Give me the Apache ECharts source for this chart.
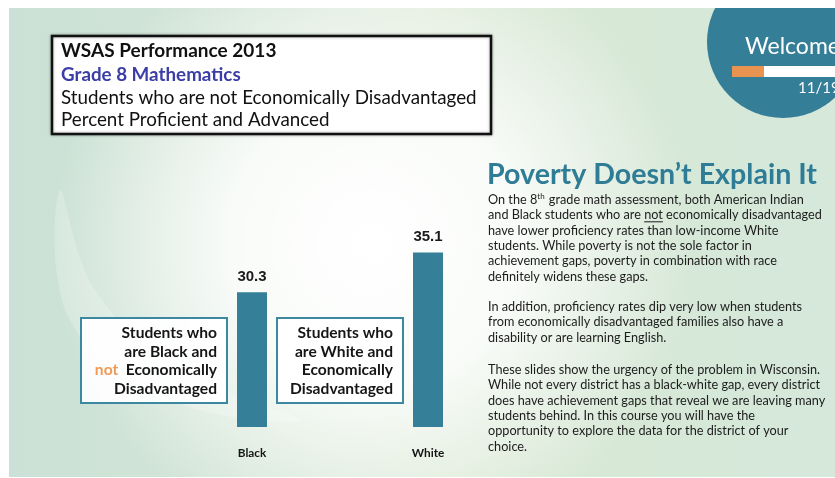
<!DOCTYPE html>
<html>
<head>
<meta charset="utf-8">
<script src="https://cdn.jsdelivr.net/npm/echarts@6/dist/echarts.min.js"></script>
<style>
  html, body { margin: 0; padding: 0; background: #ffffff; }
  #chart { width: 835px; height: 478px; }
</style>
</head>
<body>
<div id="chart"></div>
<script>
// Grade 8 math, students not economically disadvantaged: % proficient and advanced
const categories = ['Black', 'White'];
const proficiency = [30.3, 35.1];

const titleLines = [
  'WSAS Performance 2013',
  'Grade 8 Mathematics',
  'Students who are not Economically Disadvantaged',
  'Percent Proficient and Advanced'
];

const blackNote = ['Students who', 'are Black and', '{o|not}  Economically', 'Disadvantaged'];
const whiteNote = ['Students who', 'are White and', 'Economically', 'Disadvantaged'];

const heading = 'Poverty Doesn\u2019t Explain It';
const paragraphs = [
  [
    'On the 8{sup|th} grade math assessment, both American Indian',
    'and Black students who are not economically disadvantaged',
    'have lower proficiency rates than low-income White',
    'students. While poverty is not the sole factor in',
    'achievement gaps, poverty in combination with race',
    'definitely widens these gaps.'
  ],
  [
    'In addition, proficiency rates dip very low when students',
    'from economically disadvantaged families also have a',
    'disability or are learning English.'
  ],
  [
    'These slides show the urgency of the problem in Wisconsin.',
    'While not every district has a black-white gap, every district',
    'does have achievement gaps that reveal we are leaving many',
    'students behind. In this course you will have the',
    'opportunity to explore the data for the district of your',
    'choice.'
  ]
];

const TEAL = '#357f98';
const BODY_FONT = '12.7px Lato';

const chart = echarts.init(document.getElementById('chart'), null, { renderer: 'canvas' });

// canvas measurement for the underlined word in the body text
const measureCtx = document.createElement('canvas').getContext('2d');
function textWidth(str, font) {
  measureCtx.font = font;
  return measureCtx.measureText(str).width;
}

const graphics = [];

// slide background
graphics.push({
  type: 'rect', z: 0, silent: true,
  shape: { x: 9, y: 8, width: 826, height: 469 },
  style: {
    fill: {
      type: 'linear', x: 0, y: 0, x2: 1, y2: 0,
      colorStops: [
        { offset: 0, color: '#cbe1d7' },
        { offset: 0.5, color: '#d9e8d3' },
        { offset: 1, color: '#d5e8da' }
      ]
    }
  }
});
graphics.push({
  type: 'rect', z: 0, silent: true,
  shape: { x: 9, y: 8, width: 826, height: 469 },
  style: {
    fill: {
      type: 'radial', x: 0.44, y: 0.5, r: 0.68,
      colorStops: [
        { offset: 0, color: 'rgba(255,255,255,1)' },
        { offset: 0.45, color: 'rgba(255,255,255,0.85)' },
        { offset: 1, color: 'rgba(255,255,255,0)' }
      ]
    }
  }
});
// soft swoosh on the left
graphics.push({
  type: 'polygon', z: 0, silent: true,
  shape: { points: [[60, 190], [70, 320], [170, 400], [300, 420], [180, 370], [95, 290]], smooth: 0.4 },
  style: { fill: 'rgba(255,255,255,0.22)' }
});

// welcome badge
graphics.push({
  type: 'circle', z: 1, silent: true,
  shape: { cx: 783, cy: 42, r: 76 },
  style: { fill: '#347e97' }
});
graphics.push({
  type: 'text', z: 2, silent: true, x: 745, y: 47,
  style: { text: 'Welcome', font: '23px Lato', fill: '#ffffff', verticalAlign: 'middle' }
});
graphics.push({
  type: 'rect', z: 2, silent: true,
  shape: { x: 732, y: 66, width: 32, height: 11 },
  style: { fill: '#e8934f' }
});
graphics.push({
  type: 'rect', z: 2, silent: true,
  shape: { x: 764, y: 66, width: 80, height: 11 },
  style: { fill: '#ffffff' }
});
graphics.push({
  type: 'text', z: 2, silent: true, x: 798, y: 88,
  style: { text: '11/19', font: '15px Lato', fill: '#ffffff', verticalAlign: 'middle' }
});

// white frame around the slide
graphics.push({ type: 'rect', z: 3, silent: true, shape: { x: 0, y: 0, width: 835, height: 8 }, style: { fill: '#ffffff' } });
graphics.push({ type: 'rect', z: 3, silent: true, shape: { x: 0, y: 0, width: 9, height: 478 }, style: { fill: '#ffffff' } });
graphics.push({ type: 'rect', z: 3, silent: true, shape: { x: 0, y: 477, width: 835, height: 1 }, style: { fill: '#ffffff' } });

// title box
graphics.push({
  type: 'rect', z: 4, silent: true,
  shape: { x: 52, y: 36, width: 439, height: 98 },
  style: { fill: '#ffffff', stroke: '#111111', lineWidth: 2.5, shadowBlur: 3, shadowColor: 'rgba(0,0,0,0.35)' }
});
const titleStyles = [
  { font: 'bold 19px Lato', fill: '#111111', y: 51 },
  { font: 'bold 18.8px Lato', fill: '#3b3ea6', y: 75 },
  { font: '18.8px Lato', fill: '#111111', y: 98 },
  { font: '18.8px Lato', fill: '#111111', y: 120 }
];
titleLines.forEach(function (line, i) {
  graphics.push({
    type: 'text', z: 5, silent: true, x: 61, y: titleStyles[i].y,
    style: { text: line, font: titleStyles[i].font, fill: titleStyles[i].fill, verticalAlign: 'middle' }
  });
});

// note boxes beside the bars
function noteBox(x, width, lines, textRight) {
  graphics.push({
    type: 'rect', z: 4, silent: true,
    shape: { x: x, y: 318, width: width, height: 85 },
    style: { fill: 'rgba(255,255,255,0.92)', stroke: '#3b88a0', lineWidth: 2 }
  });
  graphics.push({
    type: 'text', z: 5, silent: true, x: textRight, y: 361,
    style: {
      text: lines.map(function (l) { return '{b|' + l.replace('{o|not}', '}{o|not}{b|') + '}'; }).join('\n'),
      align: 'right', verticalAlign: 'middle',
      rich: {
        b: { font: 'bold 15.6px Lato', fill: '#161616', lineHeight: 18.4 },
        o: { font: 'bold 15.6px Lato', fill: '#ef9a55', lineHeight: 18.4 }
      }
    }
  });
}
noteBox(81, 146, blackNote, 217);
noteBox(277, 126, whiteNote, 393);

// right-hand text
graphics.push({
  type: 'text', z: 5, silent: true, x: 487, y: 175,
  style: { text: heading, font: 'bold 28.6px Lato', fill: '#2f7c96', verticalAlign: 'middle' }
});
const paraStarts = [200, 307, 370];
const lineStep = 15.3;
paragraphs.forEach(function (para, p) {
  para.forEach(function (line, i) {
    const y = paraStarts[p] + i * lineStep;
    graphics.push({
      type: 'text', z: 5, silent: true, x: 488, y: y,
      style: {
        text: '{t|' + line.replace('{sup|th}', '}{sup|th}{t|') + '}',
        verticalAlign: 'middle',
        rich: {
          t: { font: BODY_FONT, fill: '#1c1c1c', lineHeight: 15, verticalAlign: 'middle' },
          sup: { font: '8px Lato', fill: '#1c1c1c', lineHeight: 15, verticalAlign: 'top', padding: [0, 1, 0, 0] }
        }
      }
    });
    if (p === 0 && i === 1) {
      const pre = 'and Black students who are ';
      const x0 = 488 + textWidth(pre, BODY_FONT);
      const w = textWidth('not', BODY_FONT);
      graphics.push({
        type: 'line', z: 5, silent: true,
        shape: { x1: x0, y1: y + 6.5, x2: x0 + w, y2: y + 6.5 },
        style: { stroke: '#1c1c1c', lineWidth: 1 }
      });
    }
  });
});

chart.setOption({
  animation: false,
  grid: { left: 164, right: 319, top: 212, bottom: 51 },
  xAxis: {
    type: 'category',
    data: categories,
    axisLine: { show: false },
    axisTick: { show: false },
    axisLabel: { margin: 20, fontFamily: 'Lato', fontWeight: 'bold', fontSize: 11.8, color: '#151515' }
  },
  yAxis: {
    type: 'value',
    min: 14,
    max: 40,
    show: false,
    splitLine: { show: false }
  },
  series: [{
    type: 'bar',
    data: proficiency,
    barWidth: 30,
    z: 6,
    itemStyle: { color: TEAL },
    label: {
      show: true,
      position: 'top',
      distance: 8,
      fontFamily: 'Liberation Sans',
      fontWeight: 'bold',
      fontSize: 15,
      color: '#1a1a1a'
    }
  }],
  graphic: { elements: graphics }
});
</script>
</body>
</html>
